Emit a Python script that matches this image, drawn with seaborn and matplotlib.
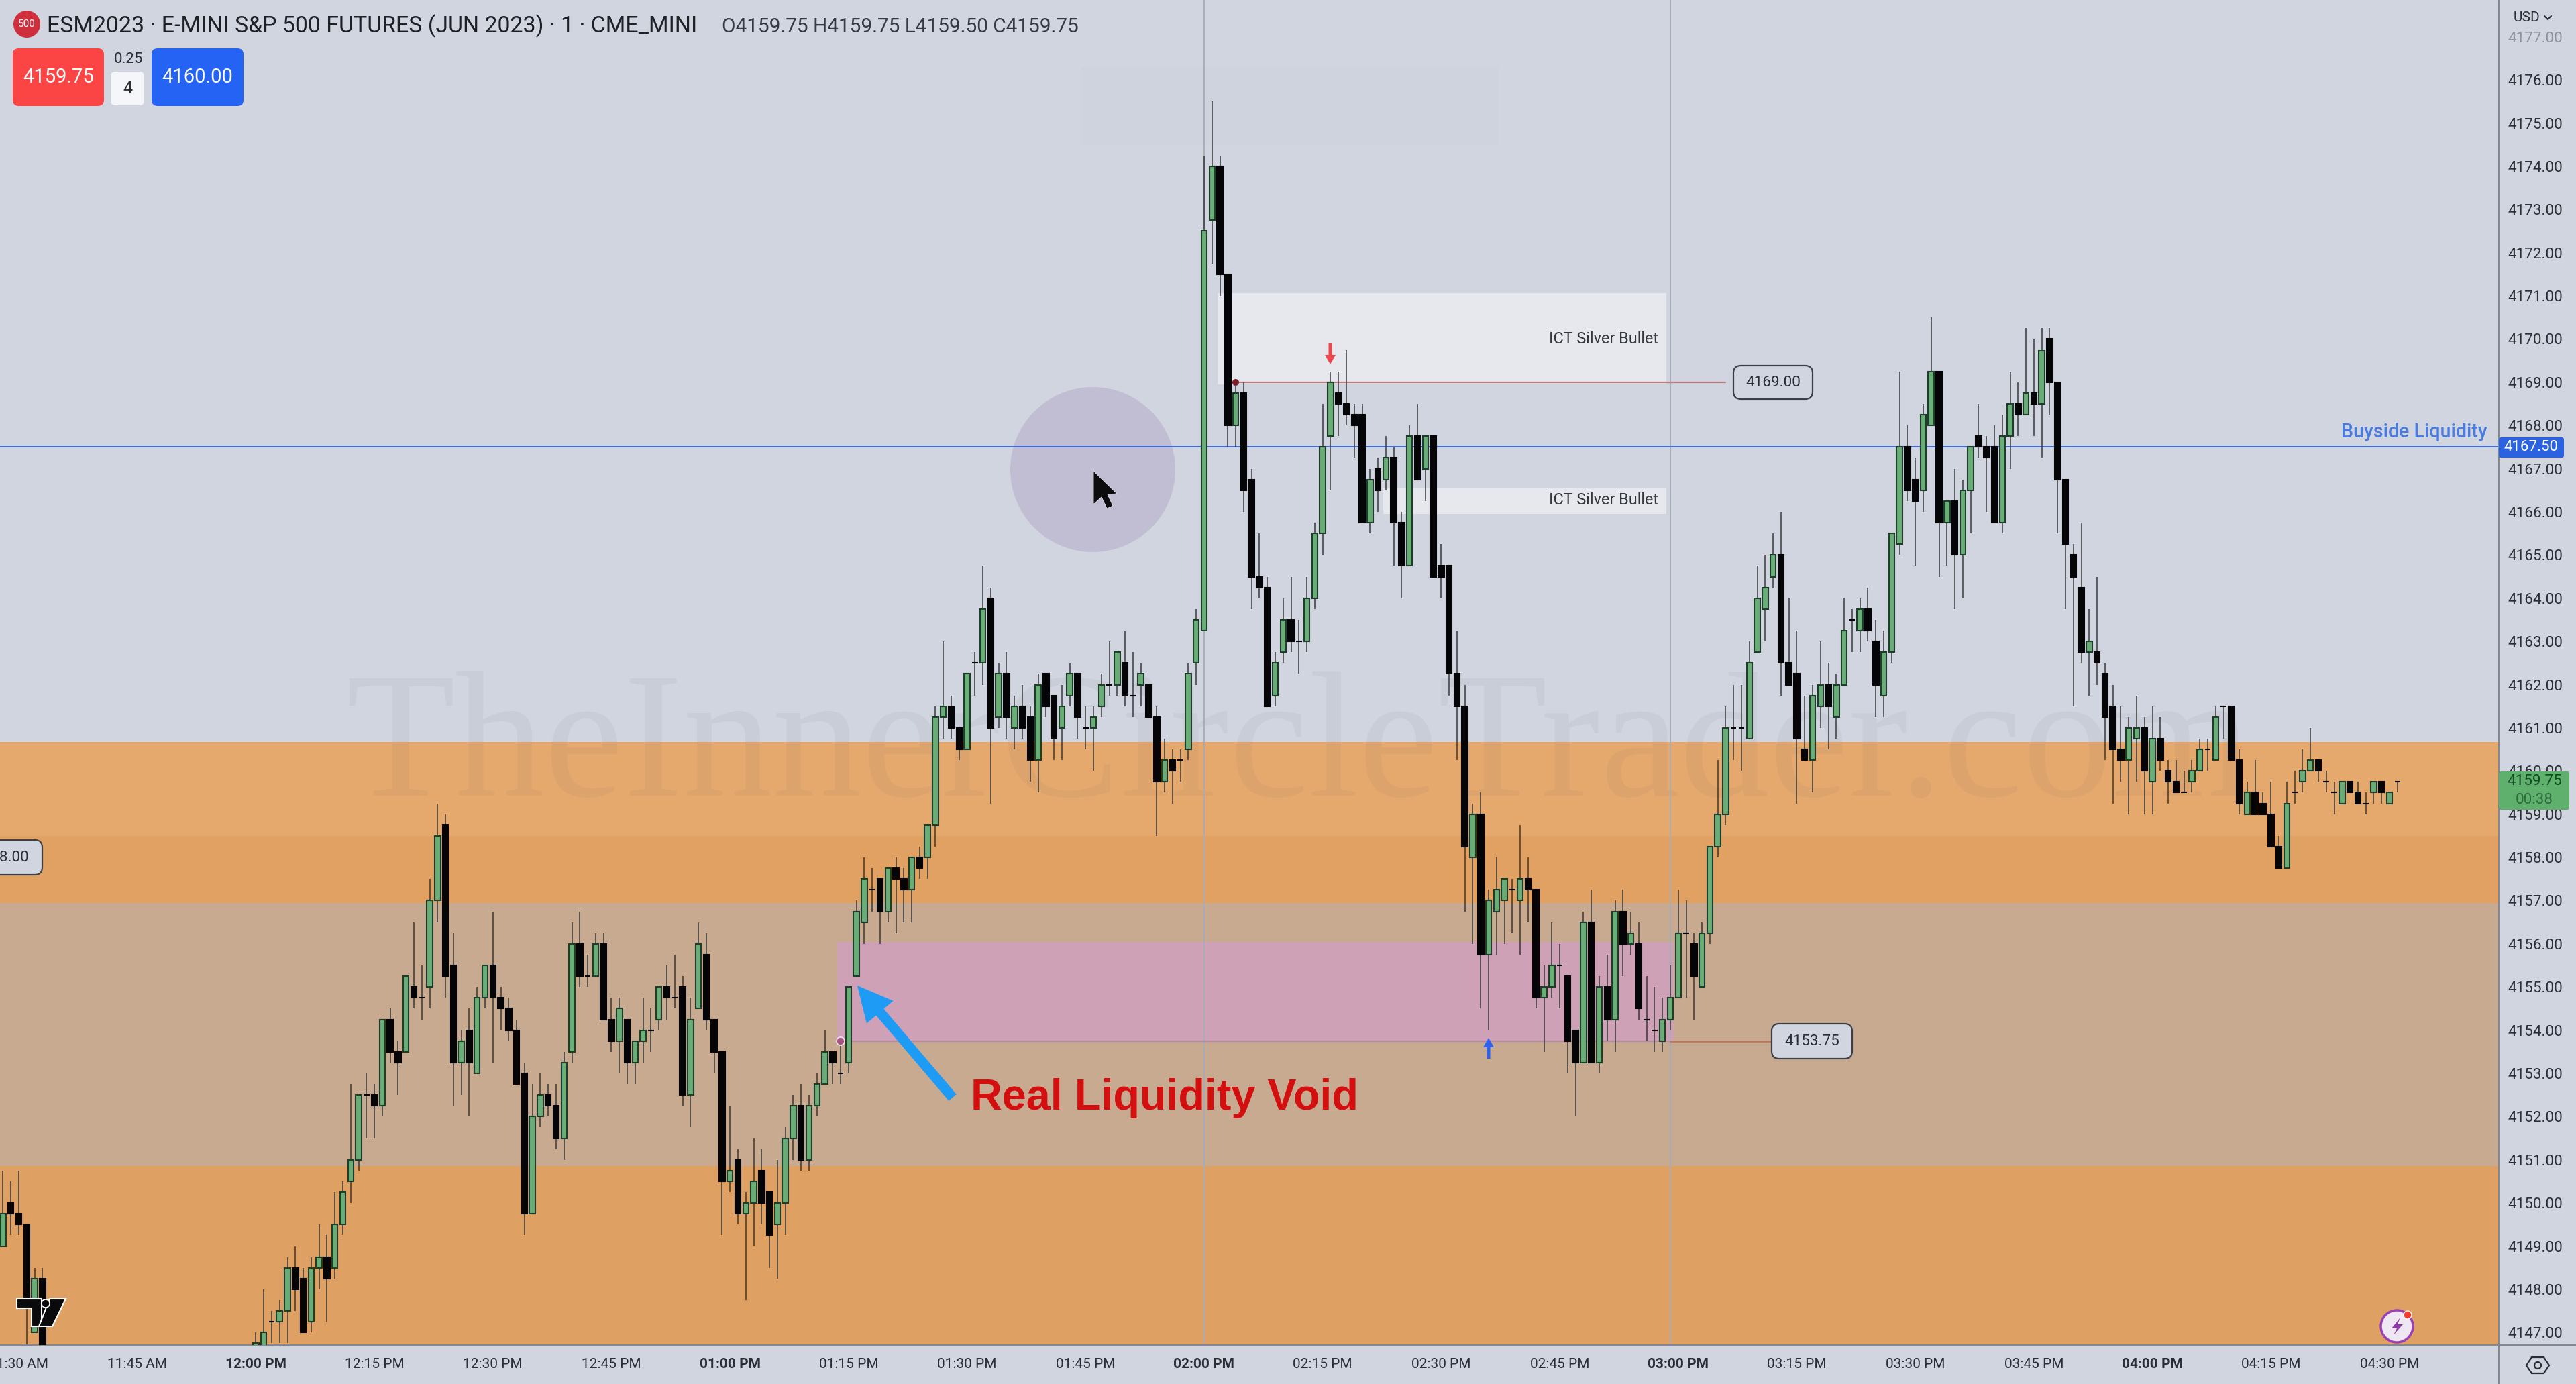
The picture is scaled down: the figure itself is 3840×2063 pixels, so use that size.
import pandas as pd
import matplotlib
matplotlib.use("Agg")
import matplotlib.pyplot as plt
import seaborn as sns
from matplotlib.patches import Circle, FancyArrow, FancyBboxPatch, Polygon, Rectangle
from matplotlib.transforms import Affine2D

W, H = 3840, 2063

minutes = list(range(-32, -26)) + list(range(0, 272))

opens = [4149,4150,4149.75,4149.5,4147,4148.25,
4146.5,4146.5,4147.25,4147.25,4147.5,4148.5,4148.25,4147.25,4148.5,4148.75,
4148.5,4149.5,4150.5,4151,4152.5,4152.5,4152.25,4154.25,4153.5,4153.5,
4155,4154.75,4155,4157,4158.75,4155.5,4153.25,4154,4153,4154.75,
4155.5,4154.75,4154.5,4154,4153,4149.75,4152,4152.5,4152.25,4151.5,
4153.5,4156,4155.25,4155.25,4156,4154.25,4153.75,4154.25,4153.25,4153.75,
4154,4154.25,4155,4154.75,4155,4152.5,4154.5,4155.75,4154.25,4153.5,
4150.5,4151,4149.75,4150,4150.75,4150.25,4149.5,4150,4151.5,4152.25,
4151,4152.25,4152.75,4153.5,4153,4153.25,4155.25,4156.5,4157.25,4157.5,
4156.75,4157.75,4157.5,4157.25,4158,4158,4158.75,4161.25,4161.5,4161,
4160.5,4162.5,4162.5,4164,4161.25,4162.25,4161,4161.5,4161.25,4160.25,
4162.25,4161.75,4161,4161.75,4162.25,4161,4161,4161.5,4162,4162,
4162.5,4161.75,4162,4162,4161.25,4159.75,4160.25,4160.25,4160.5,4162.5,
4163.25,4172.75,4174,4171.5,4168,4168.75,4166.75,4164.5,4164.25,4161.75,
4162.75,4163.5,4163,4163,4164,4165.5,4167.75,4168.75,4168.5,4168.25,
4168.25,4165.75,4167,4166.75,4167.25,4165.75,4164.75,4167.75,4167,4167.75,
4164.75,4164.75,4162.25,4161.5,4158,4159,4155.75,4156.75,4157,4157.25,
4157,4157.5,4157.25,4154.75,4155,4155.5,4155.25,4154,4153.25,4156.5,
4153.25,4155,4154.25,4156.75,4156,4156,4154.25,4154,4153.75,4154.25,
4154.75,4156.25,4156,4155,4156.25,4158.25,4159,4161,4161,4160.75,
4162.75,4163.75,4164.5,4165,4162.5,4162.25,4160.5,4160.25,4161.5,4162,
4161.25,4162,4163.5,4163.25,4163.75,4163,4161.75,4162.75,4165.25,4167.5,
4166.75,4166.5,4168,4169.25,4165.75,4166.25,4165,4166.5,4167.75,4167.5,
4167.5,4165.75,4167.75,4168.5,4168.25,4168.75,4168.5,4170,4169,4166.75,
4165,4164.25,4162.75,4162.75,4162.25,4161.5,4160.5,4160.25,4160.75,4161,
4159.75,4160.75,4160,4159.75,4159.5,4159.75,4160,4160.5,4160.25,4161.5,
4161.5,4160.25,4159,4159.5,4159.25,4159,4158.25,4157.75,4159.5,4159.75,
4160,4160.25,4159.75,4159.5,4159.25,4159.75,4159.5,4159.25,4159.5,4159.75,4159.25,4159.75]

closes = [4149.75,4149.75,4149.5,4147.75,4148.25,4146.5,
4146.75,4147,4147.25,4147.5,4148.5,4148,4147,4148.5,4148.75,4148.25,
4149.5,4150.25,4151,4152.5,4152.5,4152.25,4154.25,4153.5,4153.25,4155.25,
4154.75,4154.75,4157,4158.5,4155.25,4153.25,4153.75,4153.25,4154.75,4155.5,
4154.75,4154.5,4154,4152.75,4149.75,4152,4152.5,4152.25,4151.5,4153.25,
4156,4155.25,4155.25,4156,4154.25,4153.75,4154.5,4153.25,4153.75,4154,
4154,4155,4154.75,4154.75,4152.5,4154.25,4156,4154.25,4153.5,4150.5,
4150.75,4149.75,4150,4150.5,4150,4149.25,4150,4151.5,4152.25,4151,
4152.25,4152.75,4153.5,4153.25,4153,4155,4156.75,4157.5,4157.25,4156.75,
4157.75,4157.5,4157.25,4158,4157.75,4158.75,4161.25,4161.5,4161,4160.5,
4162.25,4162.5,4163.75,4161,4162.25,4161.25,4161.5,4161,4160.25,4162,
4161.5,4160.75,4161.5,4162.25,4161.25,4161,4161.25,4162,4162,4162.75,
4161.75,4161.75,4162.25,4161.25,4159.75,4160.25,4160,4160.25,4162.25,4163.5,
4172.5,4174,4171.5,4168,4168.75,4166.5,4164.5,4164.25,4161.5,4162.5,
4163.5,4163,4163,4164,4165.5,4167.5,4169,4168.5,4168.25,4168,
4165.75,4166.75,4166.5,4167.25,4165.75,4164.75,4167.75,4166.75,4167.75,4164.5,
4164.5,4162.25,4161.5,4158.25,4159,4155.75,4157,4157.25,4157.5,4157.25,
4157.5,4157.25,4154.75,4155,4155.5,4155.5,4153.75,4153.25,4156.5,4153.25,
4155,4154.25,4156.75,4156,4156.25,4154.5,4154.25,4154,4154.25,4154.75,
4156.25,4156.25,4155.25,4156.25,4158.25,4159,4161,4161,4161,4162.5,
4164,4164.25,4165,4162.5,4162,4160.75,4160.25,4161.75,4162,4161.5,
4162,4163.25,4163.5,4163.75,4163.25,4162,4162.75,4165.5,4167.5,4166.5,
4166.25,4168.25,4169.25,4165.75,4166.25,4165,4166.5,4167.5,4167.5,4167.25,
4165.75,4167.75,4168.5,4168.25,4168.75,4168.5,4169.75,4169,4166.75,4165.25,
4164.5,4162.75,4163,4162.5,4161.25,4160.5,4160.25,4161,4161,4160,
4160.75,4160.25,4159.75,4159.5,4159.5,4160,4160.5,4160.5,4161.25,4161.5,
4160.25,4159.25,4159.5,4159,4159,4158.25,4157.75,4159.25,4159.5,4160,
4160.25,4160,4159.75,4159.5,4159.75,4159.5,4159.25,4159.25,4159.75,4159.5,4159.5,4159.75]

highs = [4150.75,4150.5,4150.75,4149.5,4148.5,4148.5,
4147,4148,4147.5,4147.75,4148.75,4149,4148.5,4148.75,4149.5,4149.25,
4150.25,4150.5,4152.75,4152.5,4153,4152.75,4154.25,4154.5,4153.75,4155.25,
4156.5,4155.5,4157.5,4159.25,4159,4156.25,4154,4154.5,4155,4155.5,
4156.75,4155,4154.75,4154.25,4153.25,4152.75,4153,4152.75,4152.75,4153.5,
4156.5,4156.75,4155.75,4156.25,4156.25,4154.75,4154.75,4154.25,4153.75,4154.75,
4154.5,4155,4155.5,4155.75,4155.25,4154.75,4156.5,4156.25,4154.25,4153.5,
4152.25,4151.25,4150.25,4151.5,4151.25,4150.25,4151,4151.75,4152.5,4152.75,
4152.5,4153,4154,4153.5,4153.75,4155,4157,4158,4157.75,4157.5,
4157.75,4158,4157.75,4158,4158.25,4158.75,4161.5,4163,4161.75,4161,
4162.25,4162.75,4164.75,4164.25,4162.5,4162.75,4161.75,4162,4161.5,4162.25,
4162.25,4161.75,4162,4162.5,4162.25,4161.5,4161.5,4162.25,4163,4162.75,
4163.25,4162.75,4162.5,4162,4161.5,4160.75,4160.5,4160.5,4162.5,4163.75,
4174.25,4175.5,4174.25,4171.5,4169,4169,4167,4165.5,4164.5,4162.75,
4164,4164.5,4163.5,4164.5,4165.75,4168.5,4169.25,4169.25,4169.75,4168.5,
4168.5,4167,4167.25,4167.75,4167.5,4166,4168,4168.5,4167.75,4167.75,
4165.25,4164.75,4163.25,4162,4159.25,4159.5,4157.25,4158,4157.5,4157.5,
4158.75,4158,4157.25,4155.5,4156.5,4156,4155.25,4154,4156.75,4157.25,
4155.25,4155.75,4157,4157.25,4156.75,4156.5,4155.25,4155,4154.75,4155.5,
4157.25,4157,4156.25,4156.5,4158.25,4160.25,4161.5,4162,4162,4163,
4164.75,4165,4165.5,4166,4164,4163.25,4161.75,4162,4163,4162.5,
4162.25,4164,4163.75,4164,4164.25,4163.5,4163.25,4165.5,4169.25,4168,
4167.25,4168.5,4170.5,4169.25,4166.25,4167,4166.75,4167.5,4168.5,4167.75,
4168,4168.25,4169.25,4169,4170.25,4170,4170.25,4170.25,4169,4166.75,
4165.25,4165.75,4163.75,4164.5,4162.5,4162,4161.5,4161.25,4161.75,4161.25,
4161.5,4161.25,4160.25,4160.25,4160,4160.25,4160.75,4160.75,4161.5,4161.5,
4161.5,4160.5,4159.75,4160.25,4159.5,4159.75,4158.5,4159.75,4160,4160.5,
4161,4160.25,4160,4159.75,4159.75,4159.75,4159.75,4159.5,4159.75,4159.75,4159.5,4159.75]

lows = [4149,4149.25,4149.25,4146.5,4147,4146.5,
4146.25,4146.5,4146.75,4146.75,4146.75,4147.5,4147,4147,4148,4147.25,
4148.25,4149.25,4150,4150.75,4151.5,4151.5,4152,4153.25,4152.5,4153.5,
4154.5,4154.25,4154.5,4156.5,4154.75,4152.25,4152.5,4152,4153,4154.5,
4153.25,4154,4153.75,4152.75,4149.25,4149.75,4151.75,4152,4151.25,4151,
4153.25,4155,4155,4155.25,4154.25,4153.5,4153,4152.75,4152.75,4153.25,
4153.5,4154,4154.25,4154.5,4152.25,4151.75,4154.5,4154,4153,4149.25,
4150.25,4149.5,4147.75,4149,4149.5,4148.5,4148.25,4149.25,4151,4150.75,
4150.75,4152,4153.5,4152.75,4152.75,4153,4155.25,4156,4156.75,4156,
4156.5,4156.25,4156.5,4156.5,4157.5,4157.5,4158.25,4160.75,4160.75,4160.25,
4160.5,4161.75,4162,4159.25,4161,4160.75,4160.5,4160.75,4159.75,4159.5,
4161.25,4160.25,4160.25,4161.5,4160.75,4160.5,4160,4161.25,4161.75,4161.75,
4161.5,4161.25,4161.5,4161.25,4158.5,4159.5,4159.25,4159.75,4160.25,4162,
4163.25,4171.75,4171,4167.5,4167.5,4166,4163.75,4164,4161.5,4161.5,
4162.5,4162.75,4162.25,4162.75,4163.75,4165,4166.5,4167.75,4168,4167.25,
4165.75,4165.5,4166,4166.5,4164.75,4164,4164.75,4166.75,4166.25,4164.5,
4164,4161.75,4160.25,4156.75,4156,4154.5,4154,4155.75,4156,4156.25,
4155.75,4156.5,4154.5,4153.5,4154.75,4154.5,4153,4152,4153.25,4153.25,
4153,4153.75,4153.5,4155.25,4155.75,4154.25,4153.75,4153.5,4153.5,4154,
4154.75,4154.75,4154.25,4155,4156,4158,4158.75,4160.25,4160,4160.75,
4163,4163,4164.25,4161.75,4162,4159.25,4160.25,4159.5,4161,4160.5,
4160.75,4162,4162.75,4162.75,4163,4161.25,4161.25,4162.5,4165,4166.25,
4164.75,4166,4168,4164.5,4164.75,4163.75,4164,4165.5,4167.25,4166,
4165.75,4165.5,4167,4167.75,4168.25,4167.75,4167.25,4168.25,4165.5,4163.75,
4161.5,4162.5,4161.75,4162,4160.25,4159.25,4159.75,4159,4159.75,4159,
4159,4160,4159.25,4159.5,4159.5,4159.5,4160,4160,4160.25,4160.75,
4160.25,4159,4159,4159,4159,4158.25,4157.75,4157.75,4159.25,4159.5,
4160,4159.75,4159.5,4159,4159.25,4159.5,4159.25,4159,4159.25,4159.25,4159.25,4159.5]

price_ticks = list(range(4147, 4178))
time_ticks = list(range(-30, 271, 15))
time_labels = ["11:30 AM", "11:45 AM", "12:00 PM", "12:15 PM", "12:30 PM", "12:45 PM",
               "01:00 PM", "01:15 PM", "01:30 PM", "01:45 PM", "02:00 PM", "02:15 PM",
               "02:30 PM", "02:45 PM", "03:00 PM", "03:15 PM", "03:30 PM", "03:45 PM",
               "04:00 PM", "04:15 PM", "04:30 PM"]

BG = "#d1d5e0"
GREEN = "#69ad77"
UI = "Roboto"

sns.set_theme(style="white")
plt.rcParams["font.family"] = [UI, "DejaVu Sans"]

df = pd.DataFrame({"minute": minutes, "open": opens, "high": highs, "low": lows, "close": closes})
df["lower"] = df[["open", "close"]].min(axis=1)
df["body"] = (df["close"] - df["open"]).abs()
up = df[df["close"] > df["open"]]
down = df[df["close"] <= df["open"]]

fig = plt.figure(figsize=(W / 100, H / 100), dpi=100, facecolor=BG)
ax = fig.add_axes([0, 1 - 2005 / H, 3725 / W, 2005 / H], facecolor=BG)
# overlay drawn in reference pixels, y going down
px = Affine2D().scale(1 / W, -1 / H).translate(0, 1) + fig.transFigure

# zones
ax.axhspan(4158.5, 4160.68, color="#e5a96e", lw=0, zorder=0)
ax.axhspan(4156.95, 4158.5, color="#e0a163", lw=0, zorder=0)
ax.axhspan(4150.85, 4156.95, color="#c8aa90", lw=0, zorder=0)
ax.axhspan(4140, 4150.85, color="#dfa064", lw=0, zorder=0)
ax.add_patch(Rectangle((73.6, 4153.75), 105.8, 2.3, fc="#cea1b6", lw=0, zorder=0.5))
ax.add_patch(Rectangle((121.7, 4168.95), 56.8, 2.12, fc="#e6e8ee", lw=0, zorder=0.5))
ax.add_patch(Rectangle((142.7, 4165.95), 35.8, 0.6, fc="#e6e8ee", lw=0, zorder=0.5))

ax.add_patch(Circle((1629, 700), 123, fc="#c1bdd3", lw=0, transform=px, zorder=0.6))
ax.add_patch(Rectangle((1612, 100), 622, 115, fc="#cfd3de", lw=0, transform=px, zorder=0.4))
ax.text(1935, 1122, "TheInnerCircleTrader.com", transform=px, family="Liberation Serif", fontsize=192,
        color="#555555", alpha=0.06, ha="center", va="center", zorder=0.8)

# reference lines
for m in [120, 179]:
    ax.axvline(m, color="#a8acb8", lw=1.4, zorder=1)
ax.axhline(4167.5, color="#2e62e0", lw=1.3, zorder=1.5)
ax.plot([74, 179], [4153.75, 4153.75], color="#b687a6", lw=1.6, zorder=1.5)
ax.plot([179, 194], [4153.75, 4153.75], color="#b8765c", lw=1.8, zorder=1.5)
ax.plot([124, 186], [4169, 4169], color="#b5797e", lw=1.6, zorder=1.5)

# candles
ax.vlines(df["minute"], df["low"], df["high"], colors="#2a2a2a", alpha=0.7, lw=1.4, zorder=2.5)
sns.barplot(data=up, x="minute", y="body", bottom=up["lower"].values, native_scale=True, width=0.72,
            color=GREEN, saturation=1, edgecolor="#1e3d2a", linewidth=1.5, errorbar=None, ax=ax, zorder=3)
sns.barplot(data=down, x="minute", y="body", bottom=down["lower"].values, native_scale=True, width=0.72,
            color="#050508", saturation=1, edgecolor="#050508", linewidth=1.5, errorbar=None, ax=ax, zorder=3)

ax.set_xlim(-32.376, 283.84)
ax.set_ylim(4146.71, 4177.85)
ax.set_xlabel("")
ax.set_ylabel("")
ax.yaxis.tick_right()
ax.set_yticks(price_ticks)
ax.set_yticklabels([f"{p:.2f}" for p in price_ticks])
ax.set_xticks(time_ticks)
ax.set_xticklabels(time_labels)
ax.tick_params(axis="y", length=0, pad=10, labelsize=16.2, labelcolor="#2c2f36")
ax.tick_params(axis="x", length=0, pad=14, labelsize=15, labelcolor="#2c2f36")
for lab in ax.get_xticklabels():
    if lab.get_text().endswith(":00 PM"):
        lab.set_fontweight("bold")
ax.get_yticklabels()[-1].set_alpha(0.4)
for side in ["top", "left"]:
    ax.spines[side].set_visible(False)
for side in ["right", "bottom"]:
    ax.spines[side].set_color("#83878f")
    ax.spines[side].set_linewidth(1.5)


def box(x0, y0, x1, y1, fc, ec="none", lw=0, r=6, z=5):
    fig.add_artist(FancyBboxPatch((x0, y0), x1 - x0, y1 - y0, boxstyle=f"round,pad=0,rounding_size={r}",
                                  fc=fc, ec=ec, lw=lw, transform=px, zorder=z))


def label(x, y, s, size=15, color="#2a2d34", ha="center", **kw):
    fig.text(x, y, s, transform=px, fontsize=size, color=color, ha=ha, va="center", zorder=6, **kw)


fig.add_artist(plt.Line2D([3725, 3725], [2005, H], color="#83878f", lw=1.5, transform=px))
fig.add_artist(plt.Line2D([3725, W], [2005, 2005], color="#83878f", lw=1.5, transform=px))

# header
fig.add_artist(Circle((40, 36), 20, fc="#cf2f3d", lw=0, transform=px, zorder=5))
label(40, 36, "500", size=11, color="white")
label(70, 39, "ESM2023 · E-MINI S&P 500 FUTURES (JUN 2023) · 1 · CME_MINI", size=24.4, ha="left", color="#1e2026")
label(1076, 40, "O4159.75 H4159.75 L4159.50 C4159.75", size=21.4, ha="left", color="#363a45")
box(19, 72, 155, 158, "#fb4444", r=9)
label(87, 115, "4159.75", size=21, color="white")
label(191, 88, "0.25", size=16)
box(165, 107, 215, 157, "#f5f6fa", r=7)
label(190, 132, "4", size=18)
box(226, 72, 363, 158, "#2563f5", r=9)
label(294, 115, "4160.00", size=21, color="white")

# price axis bits
label(3766, 27, "USD", size=15)
fig.add_artist(plt.Line2D([3793, 3798, 3803], [24, 29, 24], color="#2a2d34", lw=1.5, transform=px))
box(3725, 652, 3822, 682, "#2b62e0", r=3)
label(3773, 667, "4167.50", size=16, color="white")
box(3725, 1150, 3830, 1207, "#5fb06c", r=3)
label(3778, 1165, "4159.75", size=16.2, color="#114d22")
label(3778, 1192, "00:38", size=16.2, color="#2e6b3c")
label(3708, 644, "Buyside Liquidity", size=20.6, color="#4a7be0", ha="right", fontweight="medium")

# annotations
box(-60, 1252, 63, 1304, BG, ec="#3c3f46", lw=1.6, r=11)
label(43, 1278, "4158.00", size=16.2, ha="right")
box(2584, 545, 2702, 595, BG, ec="#3c3f46", lw=1.6, r=11)
label(2643, 570, "4169.00", size=16.2)
box(2641, 1526, 2761, 1578, BG, ec="#3c3f46", lw=1.6, r=11)
label(2701, 1552, "4153.75", size=16.2)
label(2472, 505, "ICT Silver Bullet", size=16.8, ha="right", color="#35383f")
label(2472, 746, "ICT Silver Bullet", size=16.8, ha="right", color="#35383f")

fig.add_artist(FancyArrow(1983, 512, 0, 31, width=5, head_width=16, head_length=14, length_includes_head=True,
                          fc="#f0444e", lw=0, transform=px, zorder=5))
fig.add_artist(FancyArrow(2219, 1578, 0, -31, width=5, head_width=16, head_length=14, length_includes_head=True,
                          fc="#2e62f0", lw=0, transform=px, zorder=5))
fig.add_artist(Circle((1842, 570), 5, fc="#7a1f2a", lw=0, transform=px, zorder=5))
fig.add_artist(Circle((1253, 1552), 6, fc="#a5557f", ec="#f3e6ee", lw=1.2, transform=px, zorder=5))

fig.add_artist(FancyArrow(1420, 1636, -142, -167, width=15, head_width=52, head_length=52, length_includes_head=True,
                          fc="#1e9bf5", lw=0, transform=px, zorder=5))
label(1447, 1637, "Real Liquidity Void", size=46.6, color="#d40f10", ha="left", family="Liberation Sans", fontweight="bold")

# cursor
fig.add_artist(Polygon([(1630, 702), (1630, 752), (1642, 741), (1650, 758), (1659, 754), (1651, 737), (1665, 736)],
                       fc="#0c0c0e", ec="#e8e8ee", lw=0.6, transform=px, zorder=5))

# tv logo
for pts in ([(25, 1936), (62, 1936), (62, 1977), (47, 1977), (47, 1950), (25, 1950)],
            [(74, 1936), (98, 1936), (78, 1977), (58, 1977)]):
    fig.add_artist(Polygon(pts, fc="#0a0a0c", ec="white", lw=1.5, transform=px, zorder=5))
fig.add_artist(Circle((68, 1943), 6, fc="#0a0a0c", ec="white", lw=1.2, transform=px, zorder=5))

# alert icon
fig.add_artist(Circle((3573, 1977), 24, fc="#efe7f3", ec="#9a3fb8", lw=2.5, transform=px, zorder=5))
fig.add_artist(Polygon([(3578, 1964), (3565, 1980), (3573, 1980), (3568, 1990), (3582, 1974), (3574, 1974)],
                       fc="#8d3aa8", lw=0, transform=px, zorder=5))
fig.add_artist(Circle((3589, 1960), 6, fc="#ee3b30", ec="white", lw=1, transform=px, zorder=5))

# settings icon
fig.add_artist(Polygon([(3766, 2035), (3774, 2023), (3792, 2023), (3800, 2035), (3792, 2047), (3774, 2047)],
                       fc="none", ec="#2a2d34", lw=1.6, transform=px, zorder=5))
fig.add_artist(Circle((3783, 2035), 5, fc="none", ec="#2a2d34", lw=1.6, transform=px, zorder=5))

fig.savefig("out.png", dpi=100, facecolor=BG)
